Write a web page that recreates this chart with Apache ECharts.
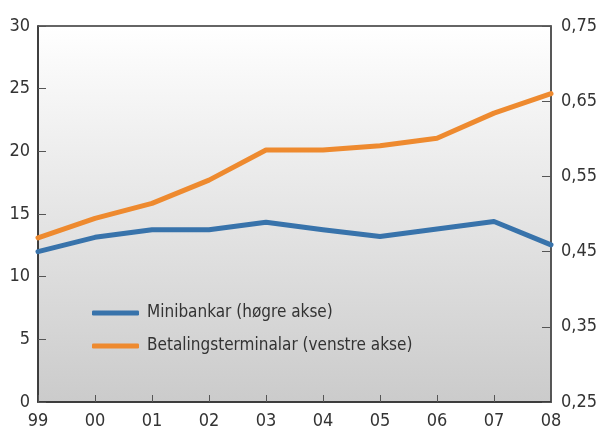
<!DOCTYPE html>
<html>
<head>
<meta charset="utf-8">
<script src="https://cdn.jsdelivr.net/npm/echarts@6/dist/echarts.min.js"></script>
<style>
  html, body { margin: 0; padding: 0; background: #fff; }
  #chart { width: 596px; height: 431px; }
</style>
</head>
<body>
<div id="chart"></div>
<script>
var years = ['99', '00', '01', '02', '03', '04', '05', '06', '07', '08'];
var minibankar = [0.45, 0.469, 0.479, 0.479, 0.489, 0.479, 0.47, 0.48, 0.49, 0.459];
var betalingsterminalar = [13.1, 14.65, 15.85, 17.7, 20.1, 20.1, 20.45, 21.05, 23.05, 24.6];

var font = '"Liberation Sans Narrow", "DejaVu Sans Condensed", sans-serif';
var chart = echarts.init(document.getElementById('chart'));

option = {
  animation: false,
  grid: {
    left: 38,
    right: 45,
    top: 26,
    bottom: 29,
    outerBoundsMode: 'none',
    containLabel: false,
    show: true,
    borderColor: '#333',
    borderWidth: 1.5,
    backgroundColor: new echarts.graphic.LinearGradient(0, 0, 0, 1, [
      { offset: 0, color: '#ffffff' },
      { offset: 1, color: '#cbcbcb' }
    ])
  },
  legend: {
    orient: 'vertical',
    left: 87,
    top: 298,
    itemWidth: 47,
    itemHeight: 5,
    itemGap: 13,
    icon: 'roundRect',
    textStyle: { fontFamily: font, fontSize: 17, color: '#333', lineHeight: 20, padding: [0, 0, 0, 3] },
    data: ['Minibankar (høgre akse)', 'Betalingsterminalar (venstre akse)']
  },
  xAxis: {
    type: 'category',
    boundaryGap: false,
    data: years,
    axisLine: { lineStyle: { color: '#333', width: 1.5 } },
    axisTick: { inside: true, length: 7, lineStyle: { color: '#555' } },
    axisLabel: { fontFamily: font, fontSize: 18, color: '#333', margin: 10 }
  },
  yAxis: [{
    type: 'value',
    min: 0,
    max: 30,
    interval: 5,
    splitLine: { show: false },
    axisLine: { show: true, lineStyle: { color: '#333', width: 1.5 } },
    axisTick: { show: true, inside: true, length: 8, lineStyle: { color: '#555' } },
    axisLabel: { fontFamily: font, fontSize: 18, color: '#333', margin: 8 }
  }, {
    type: 'value',
    position: 'right',
    min: 0.25,
    max: 0.75,
    interval: 0.1,
    splitLine: { show: false },
    axisLine: { show: true, lineStyle: { color: '#555', width: 1.5 } },
    axisTick: { show: true, inside: true, length: 9, lineStyle: { color: '#555' } },
    axisLabel: {
      fontFamily: font, fontSize: 18, color: '#333', margin: 10,
      formatter: function (v) { return v.toFixed(2).replace('.', ','); }
    }
  }],
  series: [{
    name: 'Minibankar (høgre akse)',
    type: 'line',
    yAxisIndex: 1,
    data: minibankar,
    symbol: 'none',
    clip: false,
    color: '#3873ab',
    lineStyle: { width: 5, cap: 'round', join: 'round' }
  }, {
    name: 'Betalingsterminalar (venstre akse)',
    type: 'line',
    yAxisIndex: 0,
    data: betalingsterminalar,
    symbol: 'none',
    clip: false,
    color: '#ee8a2f',
    lineStyle: { width: 5, cap: 'round', join: 'round' }
  }]
};

chart.setOption(option);
</script>
</body>
</html>
